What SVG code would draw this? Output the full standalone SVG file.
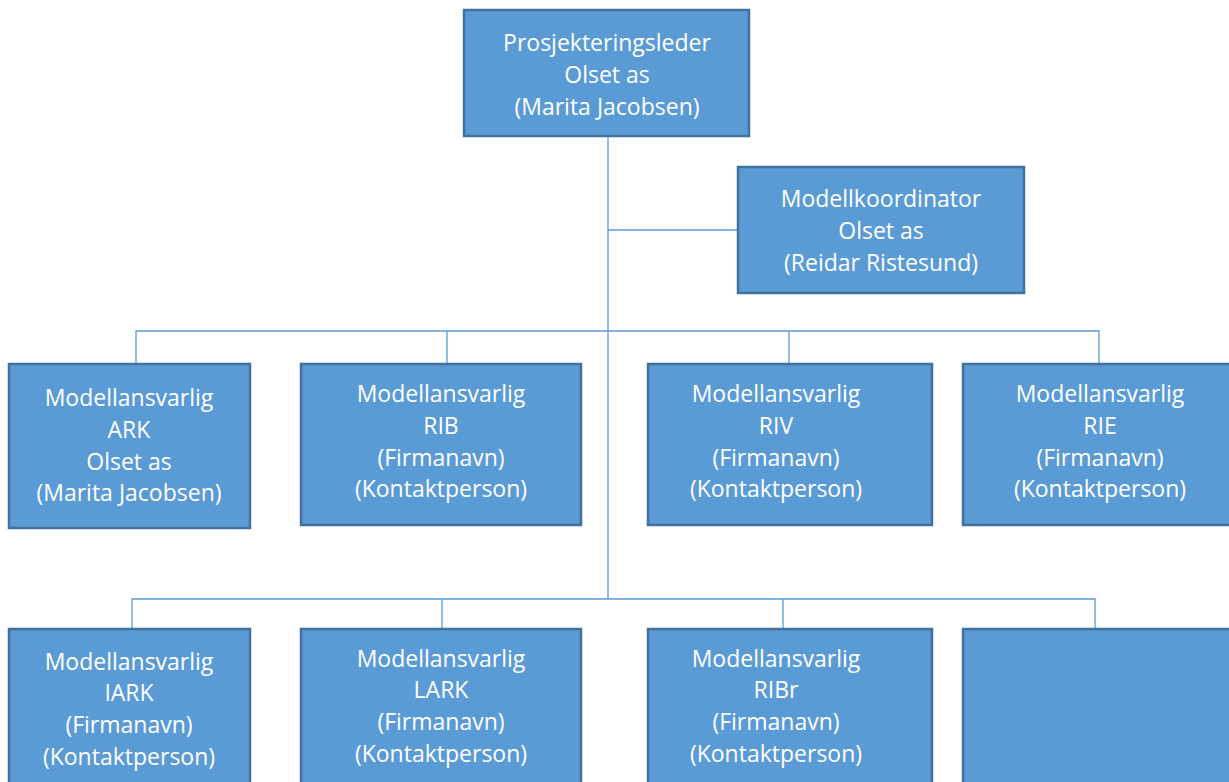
<svg xmlns="http://www.w3.org/2000/svg" width="1229" height="782" viewBox="0 0 1229 782">
<style>
.box{fill:#5B9BD5;stroke:#41719C;stroke-width:2.5}
.t{font-family:"Open Sans","Liberation Sans",sans-serif;font-size:23px;fill:#FFFFFF;text-anchor:middle}
.c{stroke:#5B9BD5;stroke-width:1.3;fill:none}
</style>
<g id="connectors">
<path class="c" d="M608 136 V599"/>
<path class="c" d="M608 230 H738"/>
<path class="c" d="M136 364 V331 H1099 V364 M447 331 V364 M789 331 V364"/>
<path class="c" d="M132 628 V599 H1095 V628 M442 599 V628 M783 599 V628"/>
</g>
<g id="n-leder"><rect class="box" x="464" y="10" width="285" height="126"/>
<text class="t" x="607" y="51">Prosjekteringsleder</text><text class="t" x="607" y="83">Olset as</text><text class="t" x="607" y="115">(Marita Jacobsen)</text></g>
<g id="n-koord"><rect class="box" x="738" y="167" width="286" height="126"/>
<text class="t" x="881" y="207">Modellkoordinator</text><text class="t" x="881" y="239">Olset as</text><text class="t" x="881" y="271">(Reidar Ristesund)</text></g>
<g id="n-ark"><rect class="box" x="9" y="364" width="241" height="164"/>
<text class="t" x="129" y="406">Modellansvarlig</text><text class="t" x="129" y="438">ARK</text><text class="t" x="129" y="470">Olset as</text><text class="t" x="129" y="501">(Marita Jacobsen)</text></g>
<g id="n-rib"><rect class="box" x="301" y="364" width="280" height="161"/>
<text class="t" x="441" y="402">Modellansvarlig</text><text class="t" x="441" y="434">RIB</text><text class="t" x="441" y="466">(Firmanavn)</text><text class="t" x="441" y="497">(Kontaktperson)</text></g>
<g id="n-riv"><rect class="box" x="648" y="364" width="284" height="161"/>
<text class="t" x="776" y="402">Modellansvarlig</text><text class="t" x="776" y="434">RIV</text><text class="t" x="776" y="466">(Firmanavn)</text><text class="t" x="776" y="497">(Kontaktperson)</text></g>
<g id="n-rie"><rect class="box" x="963" y="364" width="280" height="161"/>
<text class="t" x="1100" y="402">Modellansvarlig</text><text class="t" x="1100" y="434">RIE</text><text class="t" x="1100" y="466">(Firmanavn)</text><text class="t" x="1100" y="497">(Kontaktperson)</text></g>
<g id="n-iark"><rect class="box" x="9" y="629" width="241" height="170"/>
<text class="t" x="129" y="670">Modellansvarlig</text><text class="t" x="129" y="701">IARK</text><text class="t" x="129" y="733">(Firmanavn)</text><text class="t" x="129" y="765">(Kontaktperson)</text></g>
<g id="n-lark"><rect class="box" x="301" y="629" width="280" height="170"/>
<text class="t" x="441" y="667">Modellansvarlig</text><text class="t" x="441" y="698">LARK</text><text class="t" x="441" y="730">(Firmanavn)</text><text class="t" x="441" y="762">(Kontaktperson)</text></g>
<g id="n-ribr"><rect class="box" x="648" y="629" width="284" height="170"/>
<text class="t" x="776" y="667">Modellansvarlig</text><text class="t" x="776" y="698">RIBr</text><text class="t" x="776" y="730">(Firmanavn)</text><text class="t" x="776" y="762">(Kontaktperson)</text></g>
<g id="n-empty"><rect class="box" x="963" y="629" width="280" height="170"/></g>
</svg>
